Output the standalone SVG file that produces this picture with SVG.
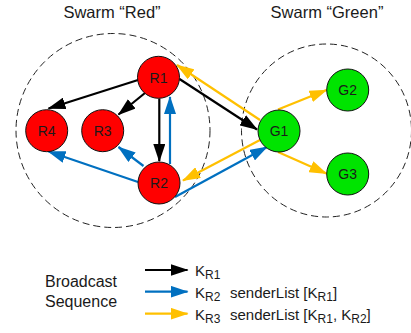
<svg xmlns="http://www.w3.org/2000/svg" width="411" height="333" viewBox="0 0 411 333">
<style>
text{font-family:"Liberation Sans",Arial,sans-serif;fill:#1a1a1a}
.swarm{fill:none;stroke:#222;stroke-width:1;stroke-dasharray:7 4}
.title{font-size:16.5px;text-anchor:middle}
.node circle{stroke:#111;stroke-width:1}
.red circle{fill:#ff0000}
.green circle{fill:#00e400}
.node text{font-size:14px;text-anchor:middle}
.k{stroke:#000;stroke-width:2.2;fill:none;marker-end:url(#ak)}
.b{stroke:#0070c0;stroke-width:2.2;fill:none;marker-end:url(#ab)}
.y{stroke:#ffc000;stroke-width:2.2;fill:none;marker-end:url(#ay)}
.leg{font-size:15px}
.sub{font-size:12px}
.big{font-size:16px}
</style>
<defs>
<marker id="ak" markerUnits="userSpaceOnUse" viewBox="0 0 18 12" markerWidth="18" markerHeight="12" refX="17" refY="6" orient="auto"><path d="M0,0 L18,6 L0,12 Z" fill="#000"/></marker>
<marker id="ab" markerUnits="userSpaceOnUse" viewBox="0 0 18 12" markerWidth="18" markerHeight="12" refX="17" refY="6" orient="auto"><path d="M0,0 L18,6 L0,12 Z" fill="#0070c0"/></marker>
<marker id="ay" markerUnits="userSpaceOnUse" viewBox="0 0 18 12" markerWidth="18" markerHeight="12" refX="17" refY="6" orient="auto"><path d="M0,0 L18,6 L0,12 Z" fill="#ffc000"/></marker>
</defs>
<rect width="411" height="333" fill="#fff"/>
<g id="swarms">
<circle class="swarm" cx="113" cy="130.5" r="97"/>
<ellipse class="swarm" cx="326.5" cy="130.5" rx="85" ry="86.5"/>
<text class="title" x="112" y="17.5">Swarm “Red”</text>
<text class="title" x="327" y="17.5">Swarm “Green”</text>
</g>
<g id="connectors">
<line class="k" x1="138" y1="80" x2="48.5" y2="108.5"/>
<line class="k" x1="145" y1="93" x2="118.5" y2="114.5"/>
<line class="k" x1="159.3" y1="98.5" x2="159.3" y2="161"/>
<line class="k" x1="179.5" y1="79" x2="257" y2="129.5"/>
<line class="b" x1="170" y1="164" x2="170" y2="97"/>
<line class="b" x1="143.5" y1="166" x2="118.5" y2="147"/>
<line class="b" x1="138" y1="182" x2="48.5" y2="151.5"/>
<line class="b" x1="175" y1="197" x2="267" y2="147"/>
<line class="y" x1="260" y1="120" x2="177" y2="65"/>
<line class="y" x1="260" y1="140" x2="183" y2="180.5"/>
<line class="y" x1="278" y1="109.5" x2="326.5" y2="90"/>
<line class="y" x1="278" y1="152" x2="326.5" y2="173.5"/>
</g>
<g id="R1" class="node red"><circle cx="158.5" cy="77.3" r="21"/><text x="158.5" y="82.5">R1</text></g>
<g id="R2" class="node red"><circle cx="159" cy="183" r="21"/><text x="159" y="188.2">R2</text></g>
<g id="R3" class="node red"><circle cx="102.7" cy="130.7" r="21"/><text x="102.7" y="135.9">R3</text></g>
<g id="R4" class="node red"><circle cx="46.7" cy="130.7" r="21"/><text x="46.7" y="135.9">R4</text></g>
<g id="G1" class="node green"><circle cx="279" cy="131" r="21"/><text x="279" y="136.2">G1</text></g>
<g id="G2" class="node green"><circle cx="347.7" cy="90" r="21"/><text x="347.7" y="95.2">G2</text></g>
<g id="G3" class="node green"><circle cx="347.7" cy="174" r="21"/><text x="347.7" y="179.2">G3</text></g>
<g id="legend">
<text class="big" x="45" y="287">Broadcast</text>
<text class="big" x="45" y="307">Sequence</text>
<line class="k" x1="145" y1="270" x2="187.5" y2="270"/>
<line class="b" x1="145" y1="291.7" x2="187.5" y2="291.7"/>
<line class="y" x1="145" y1="313.7" x2="187.5" y2="313.7"/>
<text class="leg" x="195" y="276">K<tspan class="sub" dy="3">R1</tspan></text>
<text class="leg" x="195" y="298">K<tspan class="sub" dy="3">R2</tspan></text>
<text class="leg" x="230" y="298">senderList [K<tspan class="sub" dy="3">R1</tspan><tspan dy="-3">]</tspan></text>
<text class="leg" x="195" y="320">K<tspan class="sub" dy="3">R3</tspan></text>
<text class="leg" x="230" y="320">senderList [K<tspan class="sub" dy="3">R1</tspan><tspan dy="-3">, K</tspan><tspan class="sub" dy="3">R2</tspan><tspan dy="-3">]</tspan></text>
</g>
</svg>
